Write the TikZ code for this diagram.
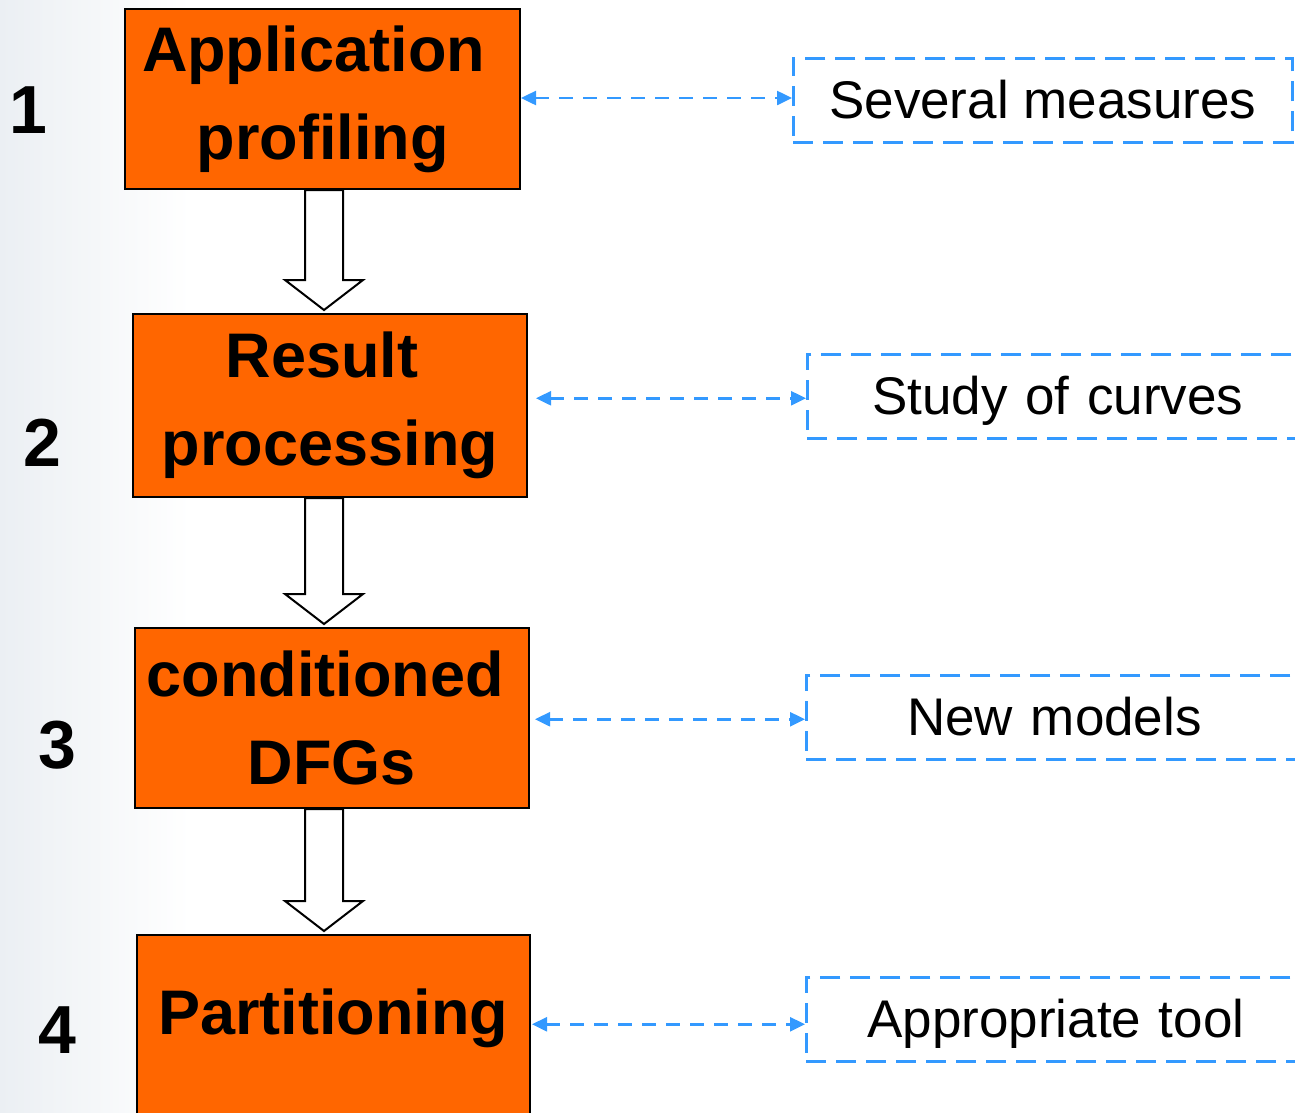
\documentclass[tikz,border=0pt]{standalone}
\usepackage{fontspec}
\setmainfont{Liberation Sans}
\usetikzlibrary{arrows.meta,calc}
\definecolor{stepfill}{HTML}{FF6600}
\definecolor{linkblue}{HTML}{3399FF}
\definecolor{haze}{HTML}{EBEFF3}
\begin{document}
\begin{tikzpicture}[x=1pt,y=1pt,
  stage/.style={draw=black,line width=2pt,fill=stepfill,inner sep=0pt,
    anchor=north west,align=center,
    font=\fontsize{63}{88}\selectfont\bfseries},
  stepno/.style={inner sep=0pt,font=\fontsize{68}{68}\selectfont\bfseries},
  note/.style={draw=linkblue,line width=2.5pt,dash pattern=on 20pt off 10pt,
    inner sep=0pt,anchor=north west,minimum height=84pt,
    text height=47pt,text depth=11pt,
    font=\fontsize{53}{60}\selectfont},
  link/.style={linkblue,line width=2.5pt,dash pattern=on 14pt off 10pt,
    {Triangle[length=15pt,width=14pt]}-{Triangle[length=15pt,width=14pt]}},
  bigarrow/.style={draw=black,line width=2pt,fill=white,line join=miter}]
\useasboundingbox (0,0) rectangle (1295,-1112);
% soft backdrop on the left edge
\shade[left color=haze,right color=white] (0,0) rectangle (190,-1112);

% process stages
\node[stage,minimum width=395pt,minimum height=180pt] (b1) at (124,-8)
  {Application\hspace*{18pt}\\profiling};
\node[stage,minimum width=394pt,minimum height=183pt] (b2) at (132,-313)
  {Result\hspace*{16pt}\\processing};
\node[stage,minimum width=394pt,minimum height=180pt] (b3) at (134,-627)
  {conditioned\hspace*{14pt}\\DFGs};
\node[stage,minimum width=393pt,minimum height=200pt] (b4) at (136,-934) {};
\node[font=\fontsize{63}{88}\selectfont\bfseries,inner sep=0pt] (t4) at (333,-1018) {Partitioning};

% step numbers
\node[stepno] (n1) at (28,-110) {1};
\node[stepno] (n2) at (42,-443) {2};
\node[stepno] (n3) at (57,-745) {3};
\node[stepno] (n4) at (57,-1030) {4};

% side notes
\node[note,minimum width=499pt] (m1) at (792,-57) {Several measures};
\node[note,minimum width=500pt,text width=470pt,align=left] (m2) at (806,-353) {\hspace{50pt}Study of curves};
\node[note,minimum width=500pt,text width=470pt,align=left] (m3) at (805,-674) {\hspace{86pt}New models};
\node[note,minimum width=500pt,text width=470pt,align=left] (m4) at (805,-976) {\hspace{46pt}Appropriate tool};

% links between stages and notes
\draw[link] (b1.east |- 0,-98) -- (m1.west |- 0,-98);
\draw[link] ($(b2.east |- m2.west)+(8,-2)$) -- ($(m2.west)+(0,-2)$);
\draw[link] ($(b3.east |- m3.west)+(5,-2)$) -- ($(m3.west)+(0,-2)$);
\draw[link] ($(b4.east |- m4.west)+(1,-5)$) -- ($(m4.west)+(0,-5)$);

% hollow block arrows between stages
\foreach \a/\b in {b1/b2,b2/b3,b3/b4}{
  \draw[bigarrow] let \p1=(\a.south), \p2=(\b.north) in
    (305pt,\y1) -- (305pt,\y2+33pt) -- (285pt,\y2+33pt) -- (324pt,\y2+3pt)
    -- (363pt,\y2+33pt) -- (343pt,\y2+33pt) -- (343pt,\y1) -- cycle;
}
\end{tikzpicture}
\end{document}
